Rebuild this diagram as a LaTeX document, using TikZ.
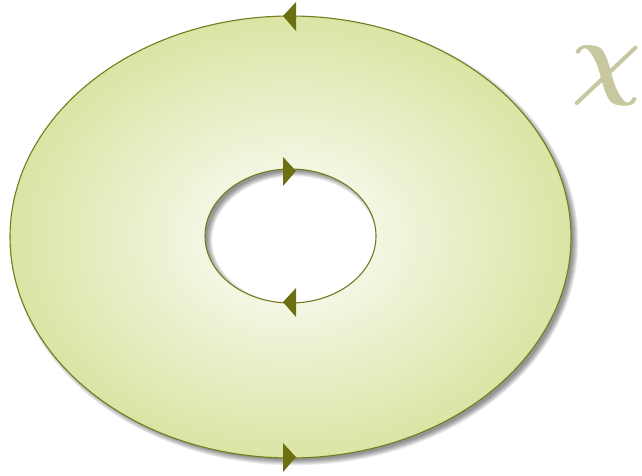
\documentclass[tikz,border=0pt]{standalone}
\definecolor{ringin}{RGB}{247,249,236}
\definecolor{ringout}{RGB}{211,223,146}
\definecolor{ringedge}{RGB}{118,122,28}
\definecolor{arrowol}{RGB}{108,112,18}
\definecolor{chicol}{RGB}{200,200,160}
\pgfdeclareradialshading{ringshade}{\pgfpoint{0bp}{0bp}}{color(0bp)=(ringin); color(5bp)=(ringin); color(30bp)=(ringout); color(100bp)=(ringout)}
\tikzset{
  ringline/.style={draw=ringedge, line width=1.1pt},
  tip/.style={fill=arrowol},
  shadowlayer/.style={fill=black, opacity=0.075, even odd rule}
}
\begin{document}
\begin{tikzpicture}[x=1pt,y=-1pt]
\useasboundingbox (0,0) rectangle (642,475);
% shadow
\foreach \k in {1,...,7} {
  \path[shadowlayer]
    (294.5,241) ellipse [x radius={277.5+\k*0.9}, y radius={218+\k*0.9}]
    (294.5,240) ellipse [x radius={88.5-\k*0.9}, y radius={70-\k*0.9}];
}
% ring
\shade[shading=ringshade, even odd rule, ringline]
  (290.5,237) ellipse [x radius=280.5, y radius=221]
  (290.5,236) ellipse [x radius=85.5, y radius=67];
% orientation arrows
\fill[tip] (283,16) -- (296,2) -- (296,31) -- cycle;
\fill[tip] (296,457) -- (283,443) -- (283,472) -- cycle;
\fill[tip] (296,171) -- (283,157) -- (283,186) -- cycle;
\fill[tip] (283,302) -- (296,288) -- (296,317) -- cycle;
% label
\node[text=chicol, font=\boldmath, xscale=9.8, yscale=9.3, inner sep=0pt] (chi) at (607,76) {$\chi$};
\end{tikzpicture}
\end{document}
